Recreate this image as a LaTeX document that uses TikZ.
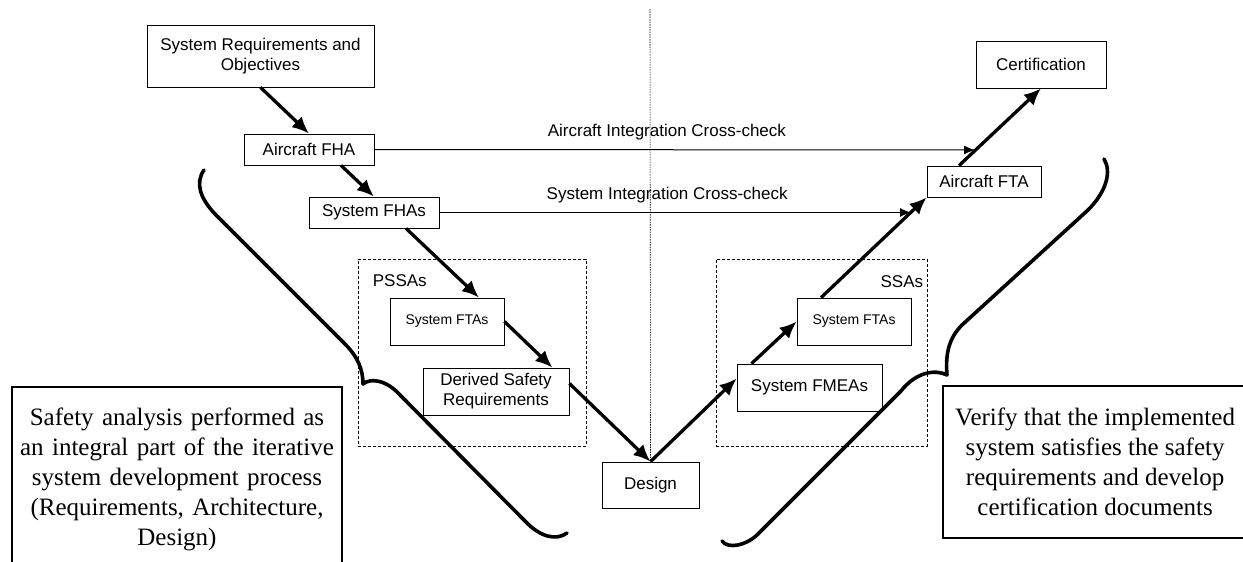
\documentclass[tikz,border=0pt]{standalone}
\usepackage{fontspec}
\setmainfont{Liberation Serif}
\setsansfont{Liberation Sans}
\usetikzlibrary{arrows.meta}

\begin{document}
\begin{tikzpicture}[x=1pt, y=-1pt,
    main/.style = {draw, line width=0.8pt, inner sep=0pt, align=center, font=\sffamily\fontsize{17}{20}\selectfont},
    small/.style = {main, font=\sffamily\fontsize{14}{17}\selectfont},
    grp/.style = {draw, dash pattern=on 3pt off 2pt, line width=0.7pt, inner sep=0pt},
    lbl/.style = {inner sep=0pt, font=\sffamily\fontsize{17}{20}\selectfont},
    note/.style = {draw, line width=2.2pt, align=center, font=\fontsize{25}{30}\selectfont},
    flow/.style = {line width=3.3pt, -{Latex[length=17pt,width=15pt]}},
    check/.style = {line width=1pt, -{Latex[length=11pt,width=9pt]}},
    brace/.style = {line width=3.6pt, line cap=round, line join=round}]
            \useasboundingbox (0,0) rectangle (1243,562);
            \clip (0,0) rectangle (1243,562);

            % left leg
            \node[main, minimum width=227, minimum height=62] (SysReq) at (260.5,56) {System Requirements and\\Objectives};
            \node[main, minimum width=130, minimum height=31] (AcFHA) at (309,149.5) {Aircraft FHA};
            \node[main, minimum width=130, minimum height=31] (SysFHA) at (374,212.5) {System FHAs};

            \node[grp, minimum width=228, minimum height=187] (PSSA) at (472,352.5) {};
            \node[lbl, anchor=west] at ([xshift=15, yshift=-22]PSSA.north west) {PSSAs};
            \node[small, minimum width=114, minimum height=47] (SysFTA1) at (447,321.5) {System FTAs};
            \node[main, minimum width=146, minimum height=47] (DerivedReq) at (496,391.5) {Derived Safety\\Requirements};

            \node[main, minimum width=97, minimum height=46] (Design) at (650.5,485) {Design};

            % right leg
            \node[grp, minimum width=211, minimum height=187] (SSA) at (821.5,352.5) {};
            \node[lbl, anchor=east] at ([xshift=-4, yshift=-23]SSA.north east) {SSAs};
            \node[main, minimum width=145, minimum height=47] (SysFMEA) at (809.5,387.5) {System FMEAs};
            \node[small, minimum width=114, minimum height=47] (SysFTA2) at (854,321.5) {System FTAs};
            \node[main, minimum width=114, minimum height=31] (AcFTA) at (984,181.5) {Aircraft FTA};
            \node[main, minimum width=130, minimum height=47] (Cert) at (1041,64.5) {Certification};

            % notes
            \node[note, text width=326, inner xsep=2, inner ysep=21, anchor=north] (LeftNote) at (177,386) {Safety analysis performed as\\an integral part of the iterative\\system development process\\(Requirements, Architecture,\\Design)};
            \node[note, minimum width=304, minimum height=152, anchor=north west] (RightNote) at (942,385) {Verify that the implemented\\system satisfies the safety\\requirements and develop\\certification documents};

            \coordinate (Top) at (650,9);
            \coordinate (AcTip) at (975,150);
            \coordinate (SysTip) at (911,212.5);

            \draw[line width=0.6pt, dash pattern=on 1.5pt off 1pt] (Top) -- (Design.north);

            \path[flow] (SysReq.south) edge (AcFHA.north);
            \path[flow] ([xshift=32]AcFHA.south) edge (SysFHA.north);
            \path[flow] ([xshift=32]SysFHA.south) edge ([xshift=32]SysFTA1.north);
            \path[flow] (SysFTA1.east) edge ([xshift=-17]DerivedReq.north east);
            \path[flow] ([yshift=8]DerivedReq.east) edge (Design.north);
            \path[flow] (Design.north) edge ([yshift=9]SysFMEA.west);
            \path[flow] ([xshift=-58]SysFMEA.north) edge (SysFTA2.west);
            \path[flow] ([xshift=-33]SysFTA2.north) edge (AcFTA.south west);
            \path[flow] ([xshift=-25]AcFTA.north) edge (Cert.south);

            \path[check] (AcFHA.east) edge node[lbl, above=9, pos=0.487] {Aircraft Integration Cross-check} (AcTip);
            \path[check] (SysFHA.east) edge node[lbl, above=9, pos=0.483] {System Integration Cross-check} (SysTip);

            % braces
            \draw[brace] (204,170) .. controls (195,183) and (200,198) .. (215,214) -- (345,344) .. controls (358,357) and (363,370) .. (363,384) .. controls (370,378) and (386,379) .. (401,396) -- (525,521) .. controls (540,537) and (556,541) .. (567,533);
            \draw[brace] (1104,159) .. controls (1112,172) and (1106,192) .. (1088,210) -- (962,325) .. controls (950,337) and (945,352) .. (947,375) .. controls (935,369) and (916,372) .. (901,391) -- (757,535) .. controls (745,546) and (728,549) .. (722,541);
        \end{tikzpicture}
\end{document}
